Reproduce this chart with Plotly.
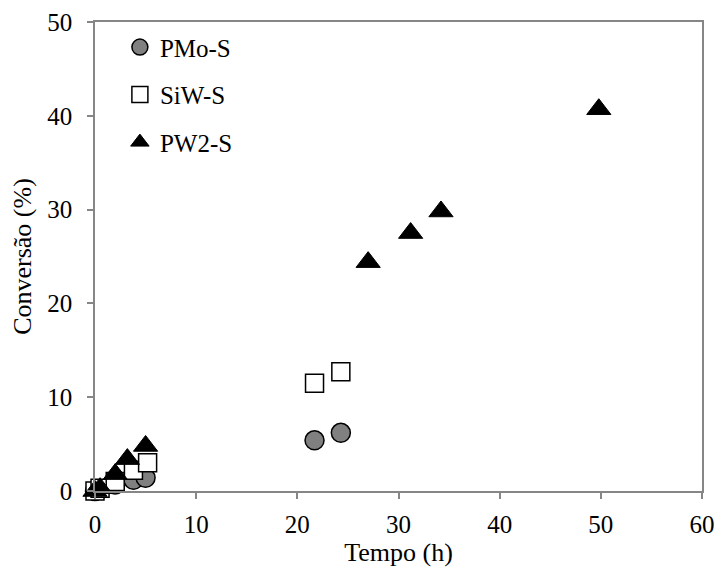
import plotly.graph_objects as go

# Data
pmo_t = [0, 0.5, 2, 3.8, 5, 21.7, 24.3]
pmo_y = [0, 0.2, 0.7, 1.2, 1.4, 5.4, 6.2]

siw_t = [0, 0.5, 2, 3.8, 5.2, 21.7, 24.3]
siw_y = [0, 0.3, 1.0, 2.2, 3.0, 11.5, 12.7]

pw2_t = [0, 0.5, 2, 3.2, 5, 27, 31.2, 34.2, 49.8]
pw2_y = [0, 0.3, 1.8, 3.4, 4.8, 24.4, 27.5, 29.8, 40.7]

x_ticks = [0, 10, 20, 30, 40, 50, 60]
y_ticks = [0, 10, 20, 30, 40, 50]

FONT = "Liberation Serif, Times New Roman, serif"
AXIS_COLOR = "#868686"

fig = go.Figure()
fig.add_trace(go.Scatter(
    x=pmo_t, y=pmo_y, mode="markers", name="PMo-S", legendgroup="a",
    marker=dict(symbol="circle", size=19, color="#808080",
                line=dict(color="black", width=1.5)),
    cliponaxis=False))
fig.add_trace(go.Scatter(
    x=siw_t, y=siw_y, mode="markers", name="SiW-S", legendgroup="b",
    marker=dict(symbol="square", size=18, color="white",
                line=dict(color="black", width=1.5)),
    cliponaxis=False))
fig.add_trace(go.Scatter(
    x=pw2_t, y=pw2_y, mode="markers", name="PW2-S", legendgroup="c",
    marker=dict(symbol="triangle-up", size=21, color="black",
                line=dict(color="black", width=1)),
    cliponaxis=False))

fig.update_layout(
    width=718, height=575,
    margin=dict(l=95, r=16, t=22, b=84),
    paper_bgcolor="white", plot_bgcolor="white",
    font=dict(family=FONT, size=24, color="black"),
    showlegend=True,
    legend=dict(x=0.041, y=0.995, xanchor="left", yanchor="top",
                bgcolor="rgba(0,0,0,0)", tracegroupgap=12,
                itemwidth=30, font=dict(size=25)),
    xaxis=dict(range=[0, 60], tickvals=x_ticks, showgrid=False, zeroline=False,
               showline=True, linecolor=AXIS_COLOR, linewidth=1.5, mirror=True,
               ticks="outside", ticklen=6, tickcolor=AXIS_COLOR, tickwidth=1.5,
               tickfont=dict(size=25), ticklabelstandoff=4, automargin=False,
               title=dict(text="Tempo (h)", standoff=2, font=dict(size=26))),
    yaxis=dict(range=[0, 50], tickvals=y_ticks, showgrid=False, zeroline=False,
               showline=True, linecolor=AXIS_COLOR, linewidth=1.5, mirror=True,
               ticks="outside", ticklen=6, tickcolor=AXIS_COLOR, tickwidth=1.5,
               tickfont=dict(size=25), ticklabelstandoff=10, automargin=False,
               title=dict(text="Conversão (%)", standoff=8, font=dict(size=26))),
)

fig.write_html("out.html", config={"displayModeBar": False},
               post_script="document.body.style.margin='0';document.body.style.overflow='hidden';")
